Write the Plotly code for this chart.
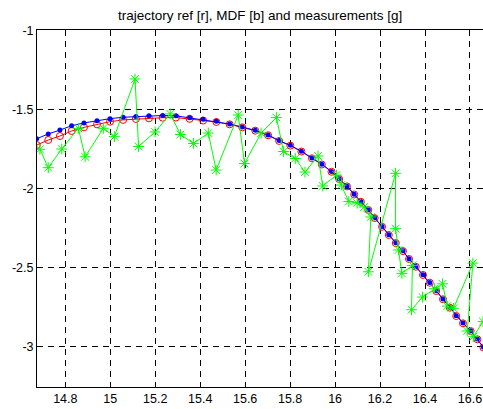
import plotly.graph_objects as go

# ---- data ----
ref_x = [14.673, 14.724, 14.776, 14.828, 14.883, 14.941, 14.999, 15.057, 15.114, 15.172,
         15.233, 15.292, 15.353, 15.413, 15.472, 15.531, 15.587, 15.645, 15.702, 15.751,
         15.801, 15.850, 15.897, 15.941, 15.984, 16.018, 16.053, 16.085, 16.115, 16.148,
         16.176, 16.209, 16.239, 16.270, 16.302, 16.329, 16.359, 16.391, 16.421, 16.450,
         16.480, 16.510, 16.539, 16.569, 16.603, 16.633, 16.660]
ref_y = [-1.725, -1.693, -1.668, -1.636, -1.613, -1.594, -1.577, -1.566, -1.560, -1.556,
         -1.552, -1.551, -1.559, -1.570, -1.579, -1.594, -1.613, -1.634, -1.663, -1.699,
         -1.729, -1.766, -1.809, -1.848, -1.894, -1.940, -1.987, -2.038, -2.084, -2.136,
         -2.187, -2.242, -2.294, -2.345, -2.396, -2.446, -2.495, -2.547, -2.596, -2.649,
         -2.701, -2.754, -2.807, -2.853, -2.902, -2.954, -3.006]

mdf_x = ref_x
mdf_y = [-1.685, -1.655, -1.630, -1.603, -1.585, -1.571, -1.558, -1.549, -1.544, -1.539,
         -1.538, -1.540, -1.553, -1.562, -1.575, -1.592, -1.611, -1.632, -1.661, -1.697,
         -1.727, -1.764, -1.807, -1.846, -1.892, -1.938, -1.985, -2.036, -2.082, -2.134,
         -2.185, -2.240, -2.292, -2.343, -2.394, -2.444, -2.493, -2.545, -2.594, -2.647,
         -2.699, -2.752, -2.805, -2.851, -2.900, -2.952, -3.004]

meas_x = [14.687, 14.724, 14.784, 14.858, 14.888, 14.969, 15.018, 15.110, 15.126, 15.199,
          15.267, 15.312, 15.370, 15.436, 15.471, 15.569, 15.597, 15.671, 15.739, 15.771,
          15.823, 15.866, 15.924, 15.945, 16.006, 16.028, 16.061, 16.098, 16.129, 16.159,
          16.148, 16.269, 16.269, 16.282, 16.297, 16.344, 16.340, 16.389, 16.442, 16.478,
          16.499, 16.527, 16.613, 16.588, 16.615, 16.658]
meas_y = [-1.752, -1.868, -1.750, -1.619, -1.799, -1.619, -1.672, -1.307, -1.734, -1.642,
          -1.528, -1.658, -1.715, -1.649, -1.883, -1.535, -1.842, -1.649, -1.551, -1.766,
          -1.810, -1.896, -1.794, -1.984, -1.915, -1.978, -2.082, -2.092, -2.117, -2.180,
          -2.527, -1.904, -2.254, -2.389, -2.537, -2.487, -2.767, -2.687, -2.634, -2.603,
          -2.744, -2.758, -2.472, -2.901, -2.938, -2.842]

x_ticks = [14.8, 15, 15.2, 15.4, 15.6, 15.8, 16, 16.2, 16.4, 16.6]
x_tick_text = ["14.8", "15", "15.2", "15.4", "15.6", "15.8", "16", "16.2", "16.4", "16.6"]
y_ticks = [-1, -1.5, -2, -2.5, -3]
y_tick_text = ["-1", "-1.5", "-2", "-2.5", "-3"]

title_text = "trajectory ref [r], MDF [b] and measurements [g]"

fig = go.Figure()
fig.add_trace(go.Scatter(
    x=ref_x, y=ref_y, mode="lines+markers",
    line=dict(color="#ff0000", width=1),
    marker=dict(symbol="circle-open", size=7, color="#ff0000", line=dict(width=1, color="#ff0000")),
    name="ref"))
fig.add_trace(go.Scatter(
    x=mdf_x, y=mdf_y, mode="lines+markers",
    line=dict(color="#0000ff", width=1),
    marker=dict(symbol="circle", size=5, color="#0000ff"),
    name="MDF"))
fig.add_trace(go.Scatter(
    x=meas_x, y=meas_y, mode="lines+markers",
    line=dict(color="#00ff00", width=1),
    marker=dict(symbol="asterisk-open", size=9, color="#00ff00", line=dict(width=1, color="#00ff00")),
    name="measurements"))

axis_font = dict(family="Liberation Sans, Arial, sans-serif", size=12.5, color="black")

fig.update_layout(
    width=483, height=409,
    margin=dict(l=37, r=0, t=30, b=22),
    paper_bgcolor="white", plot_bgcolor="white",
    showlegend=False,
    font=axis_font,
    title=dict(text=title_text, x=0.5385, xanchor="center", xref="container",
               y=1 - 15 / 409, yanchor="middle", yref="container",
               font=dict(family="Liberation Sans, Arial, sans-serif", size=13.5, color="black")),
    xaxis=dict(range=[14.674, 16.658], tickvals=x_ticks, ticktext=x_tick_text,
               showgrid=True, gridcolor="black", gridwidth=1, griddash="6px,5px",
               showline=True, linecolor="black", linewidth=1, mirror=True,
               ticks="inside", ticklen=4, tickcolor="black", zeroline=False,
               tickfont=axis_font),
    yaxis=dict(range=[-3.256, -0.997], tickvals=y_ticks, ticktext=y_tick_text,
               showgrid=True, gridcolor="black", gridwidth=1, griddash="6px,5px",
               showline=True, linecolor="black", linewidth=1, mirror=False,
               ticks="inside", ticklen=4, tickcolor="black", zeroline=False,
               tickfont=axis_font),
)

fig.write_html("out.html",
               config={"displayModeBar": False},
               post_script="document.body.style.margin='0';document.body.style.overflow='hidden';")
